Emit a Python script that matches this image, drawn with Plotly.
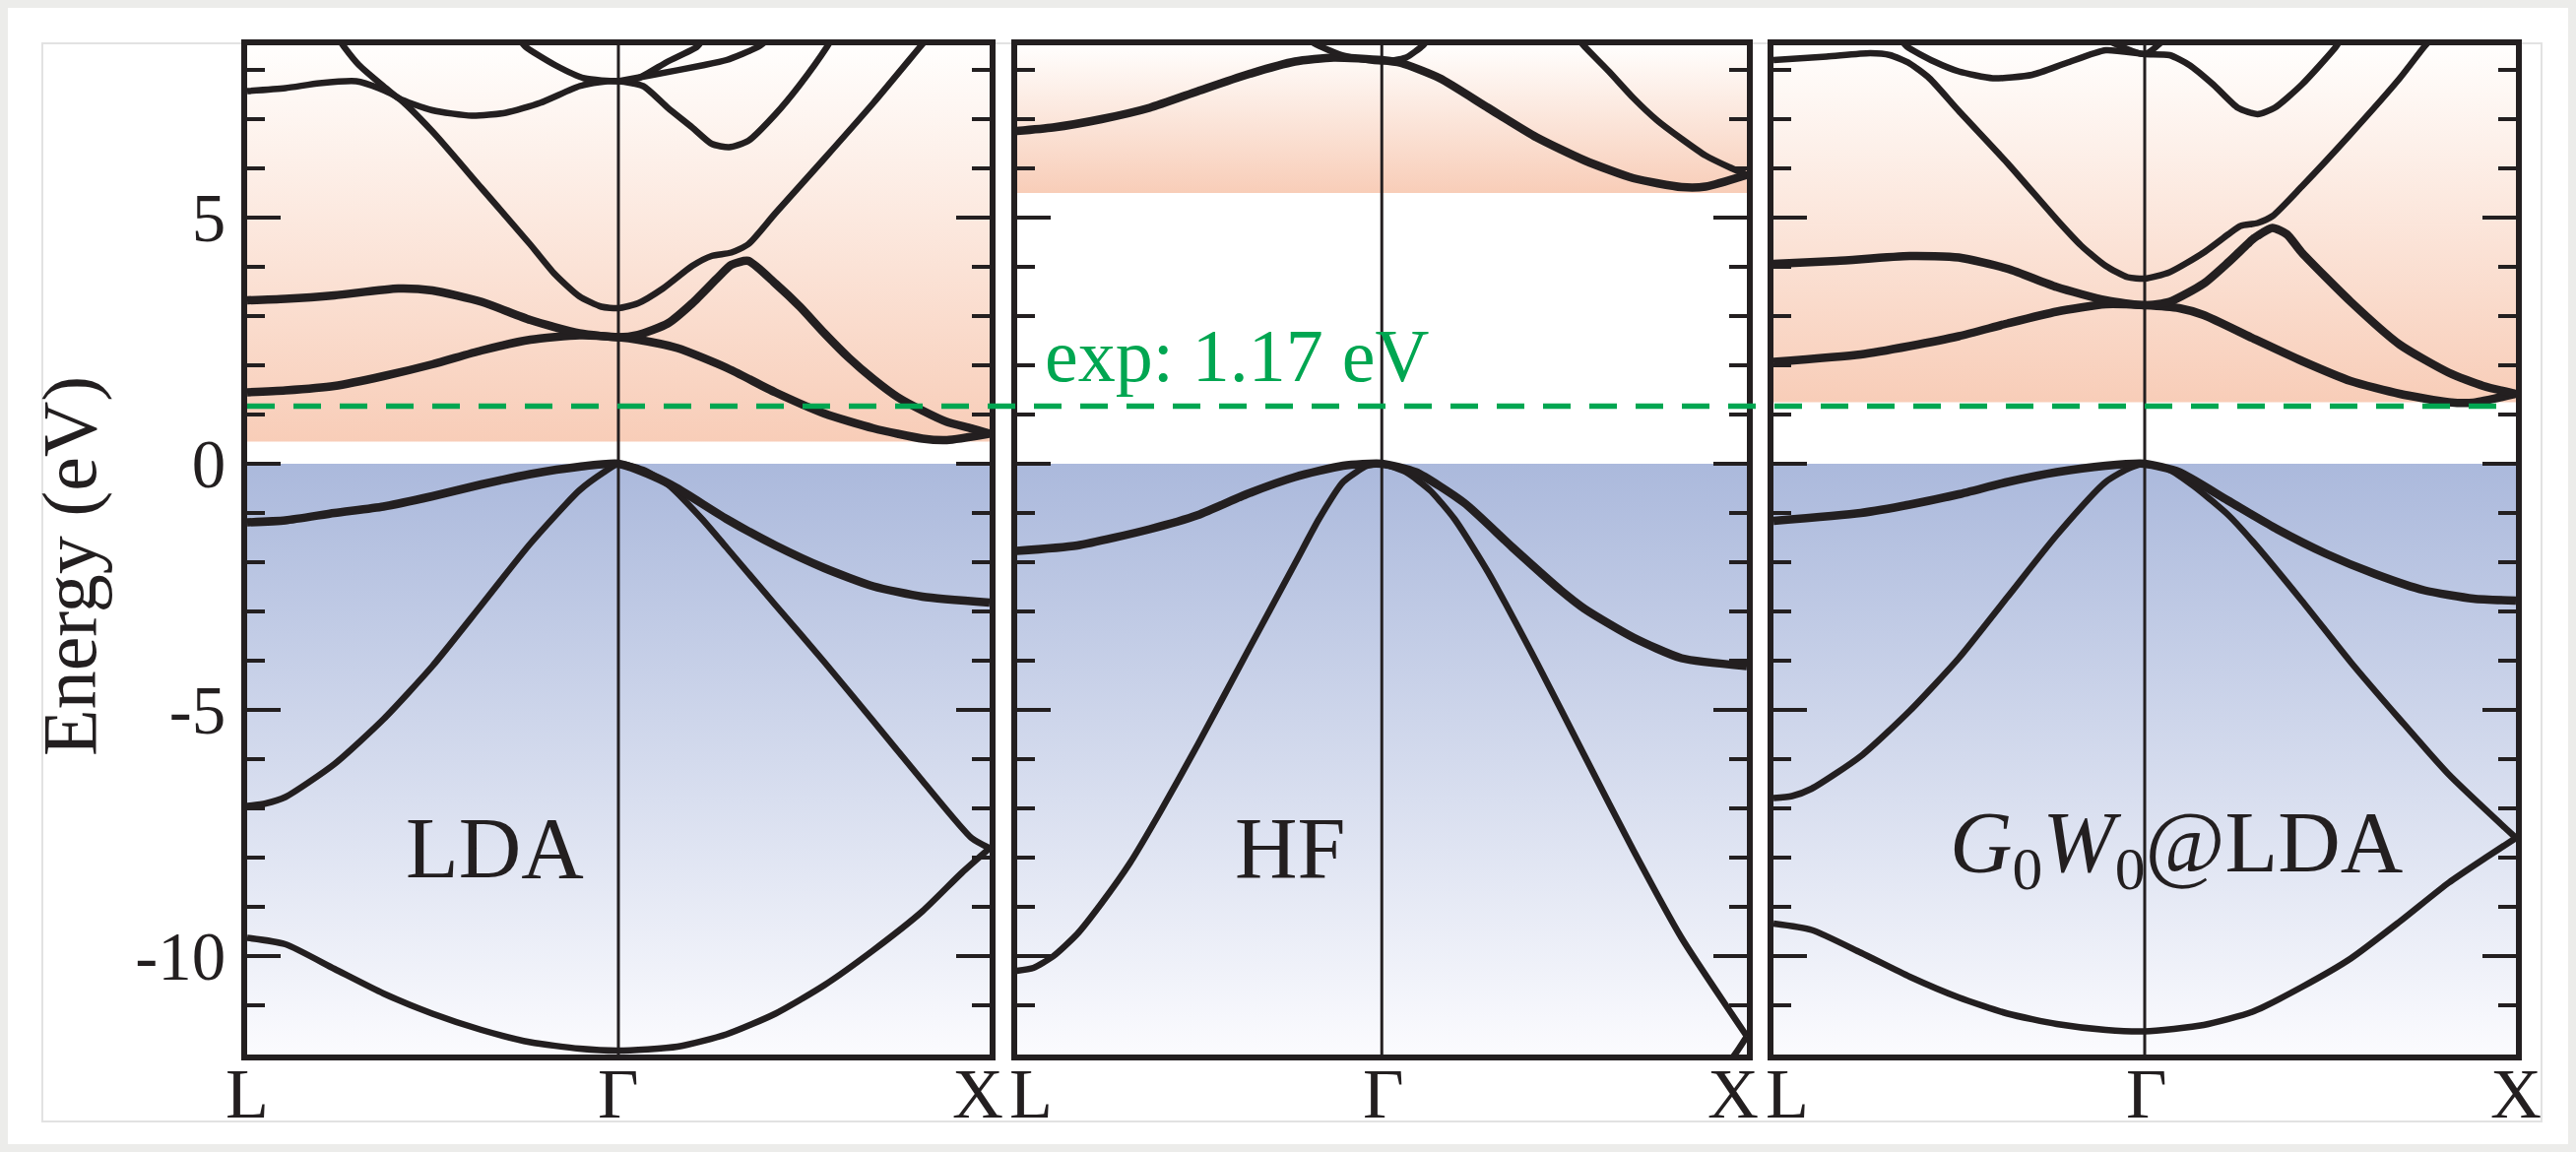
import plotly.graph_objects as go

# ---------------- data ----------------
# k-path coordinate: L = 0, Gamma = 1, X = 2
E_MIN, E_MAX = -12.0, 8.5
E_MAJOR = [-10, -5, 0, 5]
E_MAJOR_TEXT = ["-10", "-5", "0", "5"]
EXP_GAP = 1.17
VBM = 0.0
CB_EDGE_LDA = 0.45
CB_EDGE_HF = 5.5
CB_EDGE_GW = 1.25
METHODS = ["LDA", "HF", "<i>G</i><sub>0</sub><i>W</i><sub>0</sub>@LDA"]
KPOINT_LABELS = ["L", "Γ", "X"]

# ---- LDA ----
lda_v1_k = [0, 0.103, 0.235, 0.367, 0.499, 0.631, 0.763, 0.895, 1.0, 1.159, 1.291, 1.423, 1.555, 1.687, 1.819, 1.925, 2.0]
lda_v1_e = [-9.63, -9.76, -10.26, -10.76, -11.17, -11.5, -11.75, -11.88, -11.92, -11.84, -11.59, -11.17, -10.59, -9.88, -9.09, -8.31, -7.81]
lda_v2_k = [0, 0.05, 0.103, 0.235, 0.367, 0.499, 0.631, 0.763, 0.895, 0.961, 1.0, 1.066, 1.133, 1.225, 1.291, 1.423, 1.555, 1.687, 1.819, 1.951, 2.0]
lda_v2_e = [-6.95, -6.9, -6.77, -6.10, -5.19, -4.11, -2.87, -1.62, -0.54, -0.17, 0.0, -0.12, -0.42, -1.12, -1.70, -2.87, -4.03, -5.23, -6.44, -7.6, -7.81]
lda_v3_k = [0, 0.103, 0.235, 0.367, 0.499, 0.631, 0.763, 0.895, 1.0, 1.093, 1.159, 1.291, 1.423, 1.555, 1.687, 1.819, 2.0]
lda_v3_e = [-1.19, -1.15, -1.0, -0.87, -0.66, -0.42, -0.21, -0.06, 0.0, -0.25, -0.5, -1.12, -1.66, -2.12, -2.49, -2.70, -2.82]
lda_c1_k = [0, 0.103, 0.235, 0.367, 0.499, 0.631, 0.763, 0.895, 1.0, 1.053, 1.159, 1.291, 1.423, 1.555, 1.687, 1.819, 1.885, 2.0]
lda_c1_e = [1.45, 1.49, 1.58, 1.78, 2.02, 2.30, 2.52, 2.61, 2.57, 2.52, 2.35, 1.95, 1.45, 1.02, 0.72, 0.51, 0.48, 0.61]
lda_c2_k = [0, 0.103, 0.235, 0.407, 0.499, 0.631, 0.763, 0.895, 1.0, 1.053, 1.133, 1.199, 1.265, 1.304, 1.35, 1.423, 1.489, 1.555, 1.621, 1.687, 1.753, 1.819, 1.885, 1.951, 2.0]
lda_c2_e = [3.32, 3.35, 3.42, 3.56, 3.52, 3.29, 2.92, 2.65, 2.57, 2.62, 2.85, 3.26, 3.76, 4.04, 4.12, 3.66, 3.19, 2.65, 2.15, 1.72, 1.35, 1.08, 0.85, 0.72, 0.61]
lda_c3_k = [0, 0.103, 0.195, 0.294, 0.354, 0.407, 0.499, 0.631, 0.763, 0.829, 0.895, 0.954, 1.0, 1.053, 1.12, 1.199, 1.251, 1.304, 1.35, 1.423, 1.555, 1.687, 1.813, 1.832]
lda_c3_e = [7.57, 7.63, 7.73, 7.77, 7.63, 7.43, 6.75, 5.6, 4.45, 3.85, 3.4, 3.19, 3.16, 3.26, 3.56, 4.02, 4.22, 4.29, 4.46, 5.09, 6.2, 7.33, 8.47, 8.64]
lda_c4_k = [0.24, 0.261, 0.301, 0.367, 0.407, 0.499, 0.605, 0.697, 0.789, 0.895, 0.948, 1.0, 1.067, 1.133, 1.199, 1.251, 1.298, 1.35, 1.423, 1.489, 1.562, 1.58]
lda_c4_e = [8.7, 8.47, 8.1, 7.67, 7.43, 7.18, 7.07, 7.13, 7.33, 7.67, 7.75, 7.77, 7.67, 7.23, 6.83, 6.5, 6.43, 6.56, 7.1, 7.7, 8.47, 8.7]
lda_c5_k = [0.73, 0.75, 0.829, 0.908, 1.0, 1.053, 1.133, 1.212, 1.23]
lda_c5_e = [8.65, 8.47, 8.1, 7.83, 7.77, 7.83, 8.17, 8.47, 8.65]
lda_c6_k = [1.0, 1.093, 1.225, 1.291, 1.377, 1.40]
lda_c6_e = [7.77, 7.9, 8.09, 8.2, 8.47, 8.6]

# ---- HF ----
hf_v1_k = [1.0, 1.5, 1.8, 1.9, 1.967, 2.0]
hf_v1_e = [-15.5, -14.6, -13.3, -12.6, -12.0, -11.63]
hf_v2_k = [0, 0.046, 0.099, 0.166, 0.232, 0.311, 0.391, 0.497, 0.629, 0.762, 0.828, 0.894, 0.96, 1.0, 1.066, 1.132, 1.199, 1.291, 1.424, 1.556, 1.689, 1.821, 2.0]
hf_v2_e = [-10.3, -10.24, -10.01, -9.55, -8.93, -8.1, -7.1, -5.69, -3.86, -2.03, -1.12, -0.37, -0.04, 0.0, -0.17, -0.54, -1.12, -2.2, -4.03, -5.94, -7.85, -9.63, -11.63]
hf_v3_k = [0, 0.166, 0.364, 0.497, 0.629, 0.762, 0.894, 1.0, 1.093, 1.225, 1.358, 1.49, 1.556, 1.689, 1.821, 2.0]
hf_v3_e = [-1.77, -1.66, -1.33, -1.04, -0.62, -0.27, -0.04, 0.0, -0.17, -0.79, -1.70, -2.57, -2.95, -3.53, -3.95, -4.11]
hf_c1_k = [0, 0.099, 0.232, 0.364, 0.497, 0.629, 0.762, 0.868, 1.0, 1.053, 1.159, 1.291, 1.424, 1.556, 1.689, 1.821, 1.887, 2.0]
hf_c1_e = [6.76, 6.83, 7.0, 7.23, 7.57, 7.9, 8.17, 8.25, 8.2, 8.14, 7.83, 7.23, 6.63, 6.16, 5.8, 5.62, 5.63, 5.87]
hf_c2_k = [1.535, 1.556, 1.622, 1.689, 1.755, 1.821, 1.887, 1.95, 2.0]
hf_c2_e = [8.65, 8.47, 7.97, 7.43, 6.97, 6.6, 6.26, 6.03, 5.87]
hf_c3_k = [0.79, 0.815, 0.894, 1.0, 1.066, 1.113, 1.13]
hf_c3_e = [8.7, 8.54, 8.29, 8.17, 8.25, 8.5, 8.65]

# ---- G0W0@LDA ----
gw_v1_k = [0, 0.103, 0.235, 0.367, 0.499, 0.631, 0.763, 0.895, 1.0, 1.159, 1.291, 1.423, 1.555, 1.687, 1.819, 1.925, 2.0]
gw_v1_e = [-9.34, -9.47, -9.93, -10.42, -10.84, -11.17, -11.38, -11.5, -11.53, -11.4, -11.13, -10.63, -10.05, -9.3, -8.51, -7.97, -7.6]
gw_v2_k = [0, 0.05, 0.103, 0.235, 0.367, 0.499, 0.631, 0.763, 0.895, 0.961, 1.0, 1.066, 1.133, 1.225, 1.291, 1.423, 1.555, 1.687, 1.819, 2.0]
gw_v2_e = [-6.79, -6.75, -6.6, -5.94, -5.02, -3.95, -2.70, -1.45, -0.37, -0.08, 0.0, -0.12, -0.46, -1.04, -1.58, -2.78, -4.03, -5.19, -6.31, -7.6]
gw_v3_k = [0, 0.235, 0.367, 0.499, 0.631, 0.763, 0.895, 1.0, 1.093, 1.225, 1.357, 1.489, 1.621, 1.753, 1.885, 2.0]
gw_v3_e = [-1.16, -1.0, -0.83, -0.62, -0.37, -0.17, -0.04, 0.0, -0.17, -0.75, -1.33, -1.83, -2.24, -2.57, -2.74, -2.78]
gw_c1_k = [0, 0.235, 0.367, 0.499, 0.631, 0.763, 0.895, 1.0, 1.093, 1.159, 1.291, 1.423, 1.555, 1.687, 1.819, 1.885, 2.0]
gw_c1_e = [2.07, 2.22, 2.39, 2.59, 2.85, 3.09, 3.24, 3.22, 3.16, 3.02, 2.55, 2.09, 1.68, 1.42, 1.25, 1.24, 1.42]
gw_c2_k = [0, 0.17, 0.367, 0.499, 0.631, 0.763, 0.895, 1.0, 1.067, 1.159, 1.225, 1.291, 1.304, 1.344, 1.383, 1.423, 1.555, 1.687, 1.819, 1.912, 2.0]
gw_c2_e = [4.06, 4.12, 4.22, 4.19, 3.96, 3.59, 3.32, 3.22, 3.29, 3.66, 4.09, 4.56, 4.63, 4.79, 4.66, 4.29, 3.29, 2.42, 1.85, 1.58, 1.42]
gw_c3_k = [0, 0.143, 0.261, 0.314, 0.367, 0.42, 0.499, 0.631, 0.763, 0.829, 0.895, 0.954, 1.0, 1.067, 1.159, 1.225, 1.258, 1.304, 1.344, 1.423, 1.555, 1.687, 1.753, 1.773]
gw_c3_e = [8.2, 8.27, 8.34, 8.3, 8.13, 7.83, 7.17, 6.1, 4.96, 4.43, 4.02, 3.79, 3.76, 3.89, 4.29, 4.66, 4.83, 4.89, 5.03, 5.63, 6.7, 7.83, 8.47, 8.64]
gw_c4_k = [0.345, 0.36, 0.433, 0.499, 0.591, 0.697, 0.789, 0.895, 1.0, 1.067, 1.12, 1.185, 1.251, 1.304, 1.35, 1.423, 1.515, 1.53]
gw_c4_e = [8.6, 8.47, 8.17, 7.97, 7.83, 7.9, 8.14, 8.4, 8.32, 8.3, 8.1, 7.7, 7.23, 7.1, 7.23, 7.7, 8.47, 8.65]
gw_c5_k = [0.9, 1.0, 1.05]
gw_c5_e = [8.6, 8.32, 8.6]

# ---------------- styling / layout ----------------
W, H = 2616, 1170
INK = "#231f20"
GREEN = "#00a651"
FONT = "Liberation Serif, Times New Roman, serif"
THIN, THICK = 6.5, 8.5

def px_x(a, b):
    return [a / W, b / W]

X_DOMAINS = [px_x(251, 1005), px_x(1032.5, 1774), px_x(1801, 2555)]
Y_DOMAIN = [1 - 1071 / H, 1 - 46 / H]

panels = [
    dict(
        bands=[(lda_v1_k, lda_v1_e, THIN), (lda_v2_k, lda_v2_e, THIN), (lda_v3_k, lda_v3_e, THICK),
               (lda_c1_k, lda_c1_e, THICK), (lda_c2_k, lda_c2_e, THICK), (lda_c3_k, lda_c3_e, THIN),
               (lda_c4_k, lda_c4_e, THIN), (lda_c5_k, lda_c5_e, THIN), (lda_c6_k, lda_c6_e, THIN)],
        cb=CB_EDGE_LDA),
    dict(
        bands=[(hf_v1_k, hf_v1_e, THIN), (hf_v2_k, hf_v2_e, THIN), (hf_v3_k, hf_v3_e, THICK),
               (hf_c1_k, hf_c1_e, THICK), (hf_c2_k, hf_c2_e, THIN), (hf_c3_k, hf_c3_e, THIN)],
        cb=CB_EDGE_HF),
    dict(
        bands=[(gw_v1_k, gw_v1_e, THIN), (gw_v2_k, gw_v2_e, THIN), (gw_v3_k, gw_v3_e, THICK),
               (gw_c1_k, gw_c1_e, THICK), (gw_c2_k, gw_c2_e, THICK), (gw_c3_k, gw_c3_e, THIN),
               (gw_c4_k, gw_c4_e, THIN), (gw_c5_k, gw_c5_e, THIN)],
        cb=CB_EDGE_GW),
]

fig = go.Figure()
k0, k1 = 0, len(KPOINT_LABELS) - 1

for i, p in enumerate(panels):
    xa = "x" if i == 0 else f"x{i+1}"
    ya = "y" if i == 0 else f"y{i+1}"
    # valence-band region (blue gradient)
    fig.add_trace(go.Scatter(
        x=[k0, k1, k1, k0, k0], y=[E_MIN, E_MIN, VBM, VBM, E_MIN],
        fill="toself", mode="lines", line=dict(width=0),
        fillgradient=dict(type="vertical", colorscale=[[0, "#fbfbfe"], [1, "#abb9dc"]]),
        xaxis=xa, yaxis=ya, hoverinfo="skip", showlegend=False))
    # conduction-band region (orange gradient)
    fig.add_trace(go.Scatter(
        x=[k0, k1, k1, k0, k0], y=[p["cb"], p["cb"], E_MAX, E_MAX, p["cb"]],
        fill="toself", mode="lines", line=dict(width=0),
        fillgradient=dict(type="vertical", colorscale=[[0, "#f8cdb8"], [1, "#fffefd"]]),
        xaxis=xa, yaxis=ya, hoverinfo="skip", showlegend=False))
    # Gamma line
    fig.add_trace(go.Scatter(
        x=[1, 1], y=[E_MIN, E_MAX], mode="lines", line=dict(color=INK, width=3),
        xaxis=xa, yaxis=ya, hoverinfo="skip", showlegend=False))
    for kk, ee, w in p["bands"]:
        fig.add_trace(go.Scatter(
            x=kk, y=ee, mode="lines",
            line=dict(color=INK, width=w, shape="spline", smoothing=0.6),
            xaxis=xa, yaxis=ya, hoverinfo="skip", showlegend=False))

# experimental gap: dashed line across all panels
fig.add_trace(go.Scatter(
    x=[0, 1], y=[EXP_GAP, EXP_GAP], mode="lines",
    line=dict(color=GREEN, width=5.5, dash="28px,19px"),
    xaxis="x4", yaxis="y4", hoverinfo="skip", showlegend=False))

layout = dict(
    width=W, height=H, margin=dict(l=0, r=0, t=0, b=0),
    paper_bgcolor="#ececea", plot_bgcolor="rgba(0,0,0,0)",
    font=dict(family=FONT, color=INK),
    showlegend=False,
)
for i in range(3):
    xk = "xaxis" if i == 0 else f"xaxis{i+1}"
    yk = "yaxis" if i == 0 else f"yaxis{i+1}"
    layout[xk] = dict(
        domain=X_DOMAINS[i], range=[k0, k1], anchor="y" if i == 0 else f"y{i+1}",
        showline=True, linewidth=6, linecolor=INK, mirror=True,
        ticks="", showticklabels=False, showgrid=False, zeroline=False, fixedrange=True)
    layout[yk] = dict(
        domain=Y_DOMAIN, range=[E_MIN, E_MAX], anchor="x" if i == 0 else f"x{i+1}",
        showline=True, linewidth=6, linecolor=INK, mirror="ticks",
        tickmode="array", tickvals=E_MAJOR, ticktext=E_MAJOR_TEXT,
        ticks="inside", ticklen=34, tickwidth=4, tickcolor=INK,
        minor=dict(tickmode="linear", tick0=0, dtick=1, ticks="inside", ticklen=18,
                   tickwidth=4, tickcolor=INK, showgrid=False),
        showticklabels=(i == 0), tickfont=dict(size=69, family=FONT, color=INK),
        ticklabelstandoff=2,
        showgrid=False, zeroline=False, fixedrange=True)
layout["xaxis4"] = dict(domain=px_x(251, 2548), range=[0, 1], anchor="y4", visible=False, fixedrange=True)
layout["yaxis4"] = dict(domain=Y_DOMAIN, range=[E_MIN, E_MAX], anchor="x4", visible=False, fixedrange=True)
fig.update_layout(**layout)

# page card and faint frame
fig.add_shape(type="rect", xref="paper", yref="paper", x0=8 / W, x1=1 - 8 / W, y0=8 / H, y1=1 - 8 / H,
              fillcolor="white", line=dict(width=0), layer="below")
fig.add_shape(type="rect", xref="paper", yref="paper", x0=43 / W, x1=2581 / W, y0=1 - 1139 / H, y1=1 - 44 / H,
              fillcolor="rgba(0,0,0,0)", line=dict(color="#e2e2e2", width=2), layer="below")

ann = []
# axis title
ann.append(dict(text="Energy (eV)", xref="paper", yref="paper", x=70 / W, y=1 - 575 / H,
                textangle=-90, showarrow=False, font=dict(size=78, family=FONT, color=INK),
                xanchor="center", yanchor="middle"))
# method labels
label_pos = [(0.666, "x"), (0.75, "x2"), (1.085, "x3")]
for (kx, xr), txt in zip(label_pos, METHODS):
    ann.append(dict(text=txt, xref=xr, yref="y", x=kx, y=-7.8, showarrow=False,
                    font=dict(size=88, family=FONT, color=INK), xanchor="center", yanchor="middle"))
# experimental gap label
ann.append(dict(text=f"exp: {EXP_GAP} eV", xref="x2", yref="y2", x=0.071, y=2.19, showarrow=False,
                font=dict(size=76, family=FONT, color=GREEN), xanchor="left", yanchor="middle"))
# k-point labels
kpos = [[0.0, 1.0, 1.968], [0.039, 1.004, 1.961], [0.037, 1.005, 2.0]]
for i, xs in enumerate(kpos):
    xr = "x" if i == 0 else f"x{i+1}"
    for kx, txt in zip(xs, KPOINT_LABELS):
        ann.append(dict(text=txt, xref=xr, yref="paper", x=kx, y=1 - 1111 / H, showarrow=False,
                        font=dict(size=72, family=FONT, color=INK), xanchor="center", yanchor="middle"))
fig.update_layout(annotations=ann)

fig.write_html("out.html", config={"displayModeBar": False},
               post_script="document.body.style.margin='0';document.body.style.overflow='hidden';")
